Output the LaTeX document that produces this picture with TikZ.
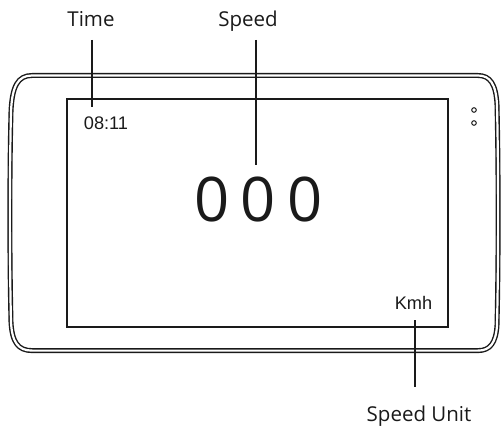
\documentclass[tikz,border=0pt]{standalone}
\usepackage{fontspec}
\setmainfont{Open Sans}
\newfontfamily\arialf{Liberation Sans}
\definecolor{ink}{HTML}{1A1A1A}
\begin{document}
\begin{tikzpicture}[x=1pt,y=-1pt,
  lab/.style={font=\fontsize{20.5}{24}\selectfont, text=ink, inner sep=0pt, anchor=base},
  small/.style={font=\arialf\fontsize{18.2}{22}\selectfont, text=ink, inner sep=0pt, anchor=base},
  big/.style={font=\fontsize{61.5}{70}\selectfont, text=ink, inner sep=0pt, anchor=base},
  pointer/.style={draw=ink, line width=2pt},
  frame/.style={draw=ink, line width=1.4pt, double=white, double distance=2.2pt},
  screen/.style={draw=ink, line width=1.2pt},
  dot/.style={draw=ink, line width=1pt}]
\useasboundingbox (0,0) rectangle (502,427);
% device frame
\draw[frame] (32,75.5) -- (478,75.5)
  .. controls (490,75.5) and (496,84) .. (497,105)
  .. controls (498.5,170) and (498.5,260) .. (497,325)
  .. controls (496,343) and (490,350.6) .. (478,350.6)
  -- (32,350.6)
  .. controls (18,350.6) and (12,342) .. (11,322)
  .. controls (9.5,260) and (9.5,170) .. (11,112)
  .. controls (12,86) and (18,75.5) .. (32,75.5) -- cycle;
% screen
\draw[screen] (67,99) rectangle (448,327);
% dots
\draw[dot] (474,110) circle (2.3);
\draw[dot] (474,123) circle (2.3);
% texts
\node[small] (clock) at (106,130) {08:11};
\node[big] (spd) at (258.5,222) {\spaceskip=0.19em\relax 0 0 0};
\node[small] (unit) at (413.5,309) {Kmh};
\node[lab] (time) at (91,27) {Time};
\node[lab] (speed) at (248,27) {Speed};
\node[lab] (sunit) at (419,421) {Speed Unit};
% pointers
\coordinate (t1) at (92,40); \coordinate (t2) at (92,107);
\coordinate (s1) at (256,40); \coordinate (s2) at (256,165);
\coordinate (u1) at (415,320); \coordinate (u2) at (415,387);
\draw[pointer] (t1) -- (t2);
\draw[pointer] (s1) -- (s2);
\draw[pointer] (u1) -- (u2);
\end{tikzpicture}
\end{document}
